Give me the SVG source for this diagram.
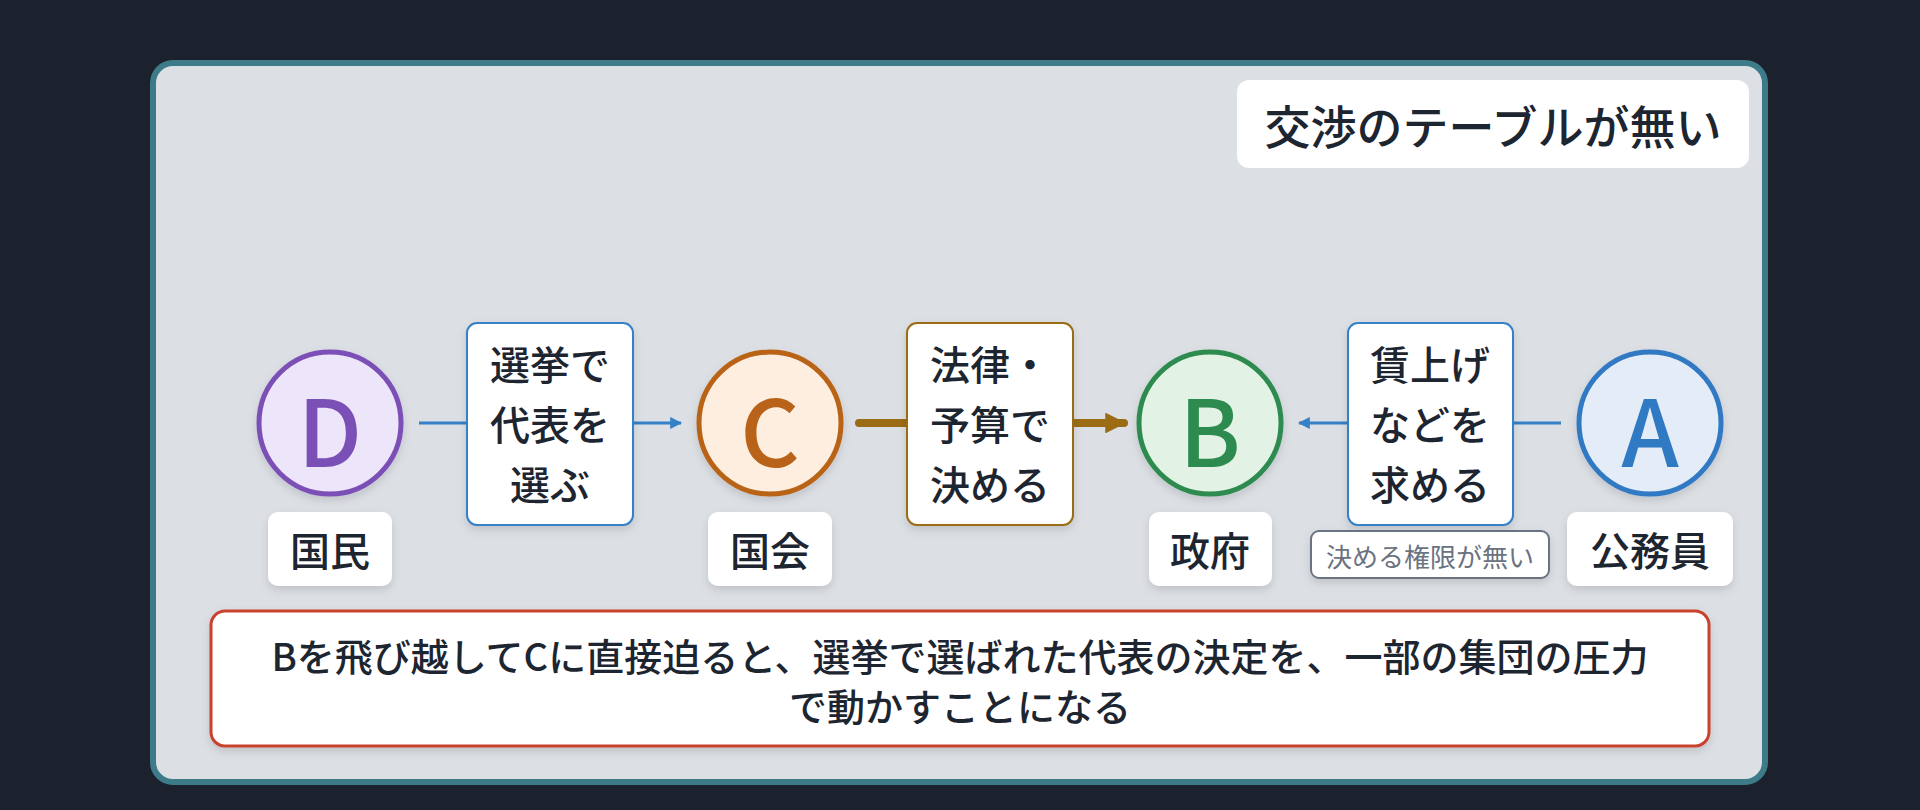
<svg xmlns="http://www.w3.org/2000/svg" width="1920" height="810" viewBox="0 0 1920 810">
<defs>
<style>
text{font-family:"Noto Sans CJK JP","Noto Sans",sans-serif;fill:#1d2530;text-anchor:middle;dominant-baseline:central}
.circ{stroke-width:5}
.letter{font-size:92px;font-weight:500}
.lbl{fill:#ffffff;filter:url(#sh)}
.lbltxt{font-size:40px;font-weight:500}
.ebox{fill:#ffffff;stroke-width:2;filter:url(#sh)}
.etxt{font-size:40px;font-weight:500}
</style>
<filter id="sh" x="-20%" y="-20%" width="140%" height="150%">
<feDropShadow dx="0" dy="4" stdDeviation="4" flood-color="#000" flood-opacity="0.13"/>
</filter>
<marker id="ab" viewBox="0 0 10 10" refX="9" refY="5" markerWidth="4" markerHeight="4" orient="auto-start-reverse" markerUnits="strokeWidth">
<path d="M0,0 L10,5 L0,10 z" fill="#3580c6"/>
</marker>
<marker id="abr" viewBox="0 0 10 10" refX="9" refY="5" markerWidth="2.6" markerHeight="2.6" orient="auto" markerUnits="strokeWidth">
<path d="M0,0 L10,5 L0,10 z" fill="#9b6c14"/>
</marker>
</defs>
<rect width="1920" height="810" fill="#1c222d"/>
<rect x="153" y="63" width="1612" height="719" rx="20" fill="#dcdfe4" stroke="#3e7b88" stroke-width="6"/>

<g id="title">
<rect x="1237" y="80" width="512" height="88" rx="12" fill="#ffffff"/>
<text x="1493" y="124" style="font-size:46px;font-weight:500">交渉のテーブルが無い</text>
</g>

<g id="connectors">
<line x1="419" y1="423" x2="681" y2="423" stroke="#3580c6" stroke-width="3" marker-end="url(#ab)"/>
<line x1="859" y1="423" x2="1124" y2="423" stroke="#9b6c14" stroke-width="8" stroke-linecap="round" marker-end="url(#abr)"/>
<line x1="1561" y1="423" x2="1299" y2="423" stroke="#3580c6" stroke-width="3" marker-end="url(#ab)"/>
</g>

<g id="edge-DC">
<rect class="ebox" x="467" y="323" width="166" height="202" rx="10" stroke="#3580c6"/>
<text class="etxt" x="550" y="363">選挙で</text>
<text class="etxt" x="550" y="423">代表を</text>
<text class="etxt" x="550" y="483">選ぶ</text>
</g>
<g id="edge-CB">
<rect class="ebox" x="907" y="323" width="166" height="202" rx="10" stroke="#9b6c14"/>
<text class="etxt" x="990" y="363">法律・</text>
<text class="etxt" x="990" y="423">予算で</text>
<text class="etxt" x="990" y="483">決める</text>
</g>
<g id="edge-AB">
<rect class="ebox" x="1348" y="323" width="165" height="202" rx="10" stroke="#3580c6"/>
<text class="etxt" x="1430" y="363">賃上げ</text>
<text class="etxt" x="1430" y="423">などを</text>
<text class="etxt" x="1430" y="483">求める</text>
</g>

<g id="node-D">
<circle class="circ" cx="330" cy="423" r="71" fill="#ede5f9" stroke="#7b50b6" filter="url(#sh)"/>
<text class="letter" x="330" y="426" style="fill:#7b50b6">D</text>
<rect class="lbl" x="268" y="512" width="124" height="74" rx="10"/>
<text class="lbltxt" x="330" y="549">国民</text>
</g>
<g id="node-C">
<circle class="circ" cx="770" cy="423" r="71" fill="#fdeedf" stroke="#b86319" filter="url(#sh)"/>
<text class="letter" x="770" y="426" style="fill:#b86319">C</text>
<rect class="lbl" x="708" y="512" width="124" height="74" rx="10"/>
<text class="lbltxt" x="770" y="549">国会</text>
</g>
<g id="node-B">
<circle class="circ" cx="1210" cy="423" r="71" fill="#e2f3e6" stroke="#2e8b4f" filter="url(#sh)"/>
<text class="letter" x="1210" y="426" style="fill:#2e8b4f">B</text>
<rect class="lbl" x="1149" y="512" width="123" height="74" rx="10"/>
<text class="lbltxt" x="1210" y="549">政府</text>
</g>
<g id="node-A">
<circle class="circ" cx="1650" cy="423" r="71" fill="#e3ecf7" stroke="#3079c3" filter="url(#sh)"/>
<text class="letter" x="1650" y="426" style="fill:#3079c3">A</text>
<rect class="lbl" x="1567" y="512" width="166" height="74" rx="10"/>
<text class="lbltxt" x="1650" y="549">公務員</text>
</g>

<g id="tag">
<rect x="1311" y="531" width="238" height="47" rx="8" fill="#ffffff" stroke="#6b7380" stroke-width="2" filter="url(#sh)"/>
<text x="1430" y="555" style="font-size:26px;fill:#6b7280">決める権限が無い</text>
</g>

<g id="callout">
<rect x="211" y="611" width="1498" height="135" rx="14" fill="#ffffff" stroke="#c9432f" stroke-width="3" filter="url(#sh)"/>
<text x="960" y="654" style="font-size:38px;font-weight:500">Bを飛び越してCに直接迫ると、選挙で選ばれた代表の決定を、一部の集団の圧力</text>
<text x="960" y="704" style="font-size:38px;font-weight:500">で動かすことになる</text>
</g>
</svg>
